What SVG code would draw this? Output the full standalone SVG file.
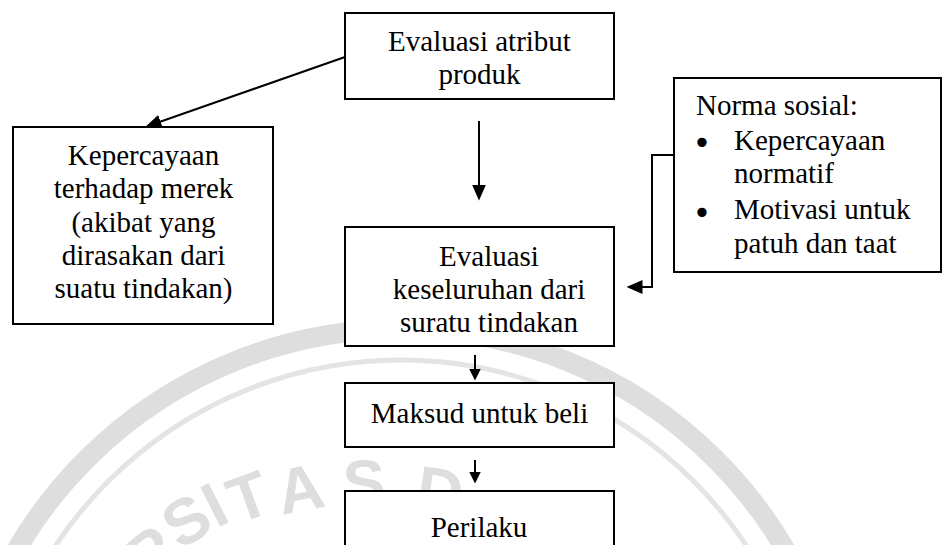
<svg xmlns="http://www.w3.org/2000/svg" width="943" height="545" viewBox="0 0 943 545">
  <defs>
    <style>
      .box { fill: #ffffff; stroke: #000000; stroke-width: 2; }
      .t { font-family: "Liberation Serif", "Times New Roman", serif; font-size: 29px; fill: #000000; }
      .c { text-anchor: middle; }
      .bul { font-family: "DejaVu Sans", sans-serif; font-size: 32px; fill: #000000; text-anchor: middle; }
      .link { fill: none; stroke: #000000; stroke-width: 2; }
      .wm-band { fill: none; stroke: #dedede; stroke-width: 20; }
      .wm-line { fill: none; stroke: #e4e4e4; stroke-width: 5; }
      .wm-text { font-family: "Liberation Sans", Arial, sans-serif; font-weight: bold; font-size: 64px; fill: #dedede; }
    </style>
    <marker id="big" markerUnits="userSpaceOnUse" markerWidth="16" markerHeight="14" viewBox="0 0 16 14" refX="0.5" refY="7" orient="auto">
      <path d="M0,0 L16,7 L0,14 Z" fill="#000000"/>
    </marker>
    <marker id="small" markerUnits="userSpaceOnUse" markerWidth="12" markerHeight="12" viewBox="0 0 12 12" refX="0.5" refY="6" orient="auto">
      <path d="M0,0 L12,6 L0,12 Z" fill="#000000"/>
    </marker>
  </defs>

  <rect x="0" y="0" width="943" height="545" fill="#ffffff"/>

  <g id="watermark">
    <circle class="wm-band" cx="401" cy="774" r="445"/>
    <circle class="wm-line" cx="401" cy="774" r="414"/>
    <text class="wm-text" font-size="64" x="147 180.6 216.5 237.4 281.7 343.5 390 413.9" y="584.4 550.8 528.4 524.2 514.9 505.6 505 509.5" rotate="-40 -33 -27 -20 -11 -2 0 8">RSITAS D</text>
  </g>

  <g id="connectors">
    <path class="link" d="M345,57 L160.1,121.7" marker-end="url(#big)"/>
    <path class="link" d="M479,121 L479,185" marker-end="url(#big)"/>
    <path class="link" d="M678,155 H652 V287 H642" marker-end="url(#big)"/>
    <path class="link" d="M475,355 L475,369" marker-end="url(#small)"/>
    <path class="link" d="M475,460 L475,472" marker-end="url(#small)"/>
  </g>

  <g id="evaluasi-atribut">
    <rect class="box" x="345" y="13" width="269" height="86"/>
    <text class="t c" x="479.5" y="51">Evaluasi atribut</text>
    <text class="t c" x="479.5" y="84">produk</text>
  </g>

  <g id="kepercayaan-merek">
    <rect class="box" x="13" y="127" width="260" height="197"/>
    <text class="t c" x="143.5" y="165">Kepercayaan</text>
    <text class="t c" x="143.5" y="198">terhadap merek</text>
    <text class="t c" x="143.5" y="231.5">(akibat yang</text>
    <text class="t c" x="143.5" y="265">dirasakan dari</text>
    <text class="t c" x="143.5" y="298">suatu tindakan)</text>
  </g>

  <g id="norma-sosial">
    <rect class="box" x="674" y="78" width="267" height="194"/>
    <text class="t" x="696" y="115">Norma sosial:</text>
    <text class="bul" x="702" y="154">•</text>
    <text class="t" x="734" y="150">Kepercayaan</text>
    <text class="t" x="734" y="183">normatif</text>
    <text class="bul" x="702" y="224">•</text>
    <text class="t" x="734" y="219">Motivasi untuk</text>
    <text class="t" x="734" y="253">patuh dan taat</text>
  </g>

  <g id="evaluasi-keseluruhan">
    <rect class="box" x="345" y="227" width="269" height="119"/>
    <text class="t c" x="489" y="266">Evaluasi</text>
    <text class="t c" x="489" y="299">keseluruhan dari</text>
    <text class="t c" x="489" y="332">suratu tindakan</text>
  </g>

  <g id="maksud-beli">
    <rect class="box" x="345" y="383" width="269" height="64"/>
    <text class="t c" x="479.5" y="423">Maksud untuk beli</text>
  </g>

  <g id="perilaku">
    <rect class="box" x="345" y="491" width="269" height="70"/>
    <text class="t c" x="479" y="537">Perilaku</text>
  </g>
</svg>
